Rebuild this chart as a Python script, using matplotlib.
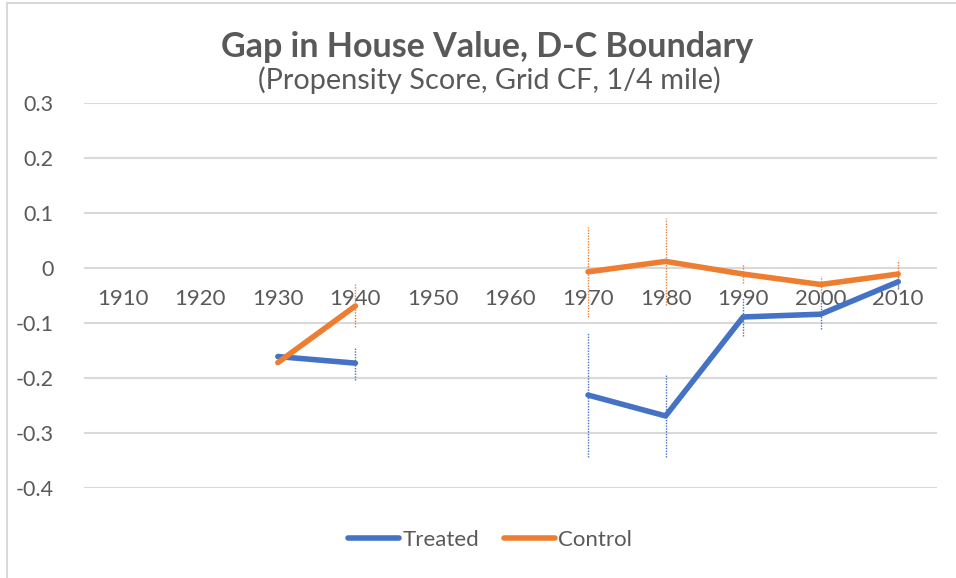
"""
Gap in house value at the D-C boundary, treated vs control, by decade.
"""
import matplotlib
matplotlib.use("Agg")
import matplotlib.pyplot as plt
from matplotlib.lines import Line2D
import numpy as np

decades = ["1910", "1920", "1930", "1940", "1950", "1960",
           "1970", "1980", "1990", "2000", "2010"]
treated = [np.nan, np.nan, -0.161, -0.173, np.nan, np.nan,
           -0.231, -0.269, -0.089, -0.084, -0.025]
treated_err = [np.nan, np.nan, np.nan, 0.030, np.nan, np.nan,
               0.112, 0.074, 0.035, 0.027, 0.014]
control = [np.nan, np.nan, -0.172, -0.069, np.nan, np.nan,
           -0.007, 0.012, -0.011, -0.030, -0.011]
control_err = [np.nan, np.nan, np.nan, 0.039, np.nan, np.nan,
               0.082, 0.079, 0.016, 0.015, 0.026]
yticks = [0.3, 0.2, 0.1, 0, -0.1, -0.2, -0.3, -0.4]

BLUE = "#4472C4"
ORANGE = "#ED7D31"
GRAY_TEXT = "#595959"
GRID = "#D9D9D9"

plt.rcParams["font.family"] = ["Lato", "DejaVu Sans"]

W, H = 956, 578
fig = plt.figure(figsize=(W / 100, H / 100), dpi=100)
ax = fig.add_axes([84 / W, 1 - 488 / H, (937 - 84) / W, (488 - 103) / H])

x = np.arange(len(decades))
for vals, errs, color, label in [(treated, treated_err, BLUE, "Treated"),
                                 (control, control_err, ORANGE, "Control")]:
    eb = ax.errorbar(x, vals, yerr=errs, color=color, ecolor=color,
                     elinewidth=1.0, capsize=0, linewidth=4.0,
                     solid_capstyle="round", label=label, zorder=5)
    eb[2][0].set_linestyle((0, (1, 1)))
    eb[2][0].set_zorder(4)

ax.set_xlim(-0.5, len(decades) - 0.5)
ax.set_ylim(-0.4, 0.3)
ax.set_yticks(yticks)
ax.set_yticklabels([f"{t:g}" for t in yticks])
ax.grid(axis="y", color=GRID, linewidth=1.5)
ax.set_axisbelow(True)
for s in ax.spines.values():
    s.set_visible(False)
ax.tick_params(axis="y", length=0, pad=22, labelsize=15.5, labelcolor=GRAY_TEXT)
ax.set_xticks([])

# category labels sit just under the zero line
for xi, lab in zip(x, decades):
    ax.text(xi, -0.057, lab, ha="center", va="center", fontsize=16,
            color=GRAY_TEXT, zorder=3)

fig.text(487 / W, 1 - 47 / H, "Gap in House Value, D-C Boundary",
         ha="center", va="center", fontsize=24.5, fontweight="bold",
         color=GRAY_TEXT)
fig.text(489 / W, 1 - 80 / H, "(Propensity Score, Grid CF, 1/4 mile)",
         ha="center", va="center", fontsize=20.8, color=GRAY_TEXT)

handles = [Line2D([0], [0], color=BLUE, linewidth=4.0, solid_capstyle="round"),
           Line2D([0], [0], color=ORANGE, linewidth=4.0, solid_capstyle="round")]
fig.legend(handles, ["Treated", "Control"], loc="center",
           bbox_to_anchor=(490 / W, 1 - 540 / H), ncol=2, frameon=False,
           fontsize=16, labelcolor=GRAY_TEXT, handlelength=2.3,
           handletextpad=0.15, columnspacing=1.1)

# chart frame edges visible in the crop
fig.add_artist(Line2D([7 / W, 7 / W], [0, 1 - 3 / H], color=GRID, linewidth=1.5))
fig.add_artist(Line2D([7 / W, 1], [1 - 3 / H, 1 - 3 / H], color=GRID, linewidth=1.5))

fig.savefig("out.png", dpi=100)
